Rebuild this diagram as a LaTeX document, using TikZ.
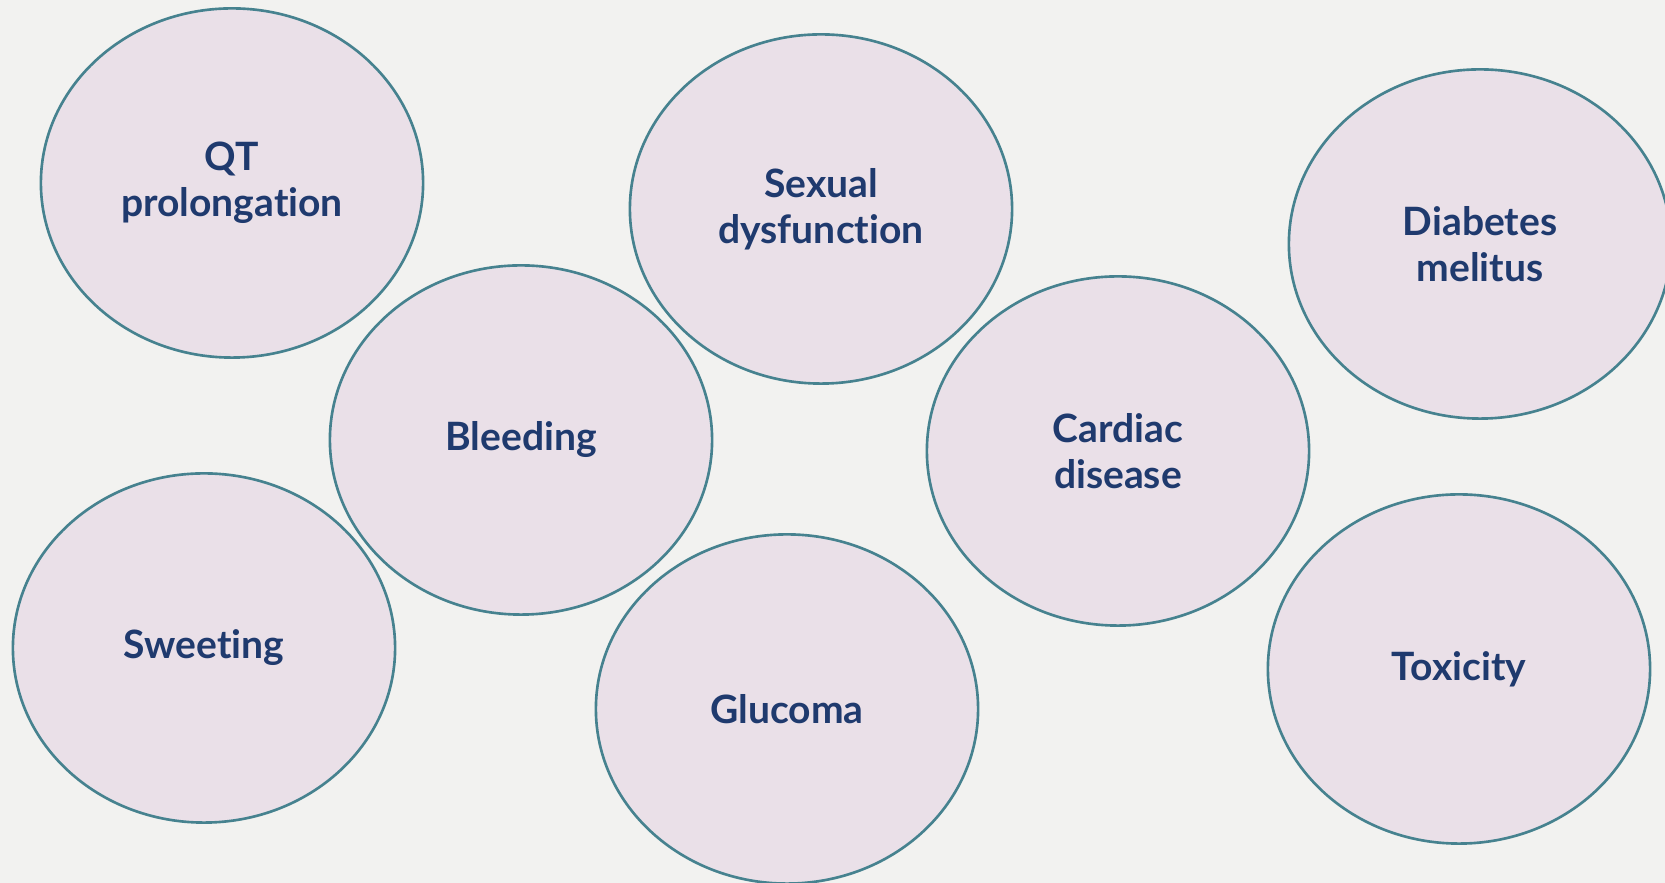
\documentclass[tikz,border=0pt]{standalone}
\usepackage{fontspec}
\setmainfont{Lato}[Ligatures=NoCommon]
\usetikzlibrary{shapes.geometric}
\definecolor{bgcol}{HTML}{F2F2F0}
\definecolor{blobfill}{HTML}{EAE0E8}
\definecolor{blobline}{HTML}{46828F}
\definecolor{txtcol}{HTML}{1F3A6E}
\tikzset{
  blob/.style={ellipse,draw=blobline,fill=blobfill,line width=0.75pt,
    minimum width=3.82cm,minimum height=3.49cm,inner sep=0pt,
    align=center,text=txtcol,font={\fontsize{11.1}{13.2}\selectfont\bfseries}}
}
\begin{document}
\begin{tikzpicture}[x=0.01cm,y=-0.01cm]
\useasboundingbox (0,0) rectangle (1665,883);
\fill[bgcol] (0,0) rectangle (1665,883);
\clip (0,0) rectangle (1665,883);
\node (qt) at (232,183) [blob] {QT\\prolongation};
\node (sexual) at (821,209) [blob] {Sexual\\dysfunction};
\node (diabetes) at (1480,244) [blob] {Diabetes\\melitus};
\node (bleeding) at (521,440) [blob] {Bleeding};
\node (cardiac) at (1118,451) [blob] {Cardiac\\disease};
\node (sweeting) at (204,648) [blob] {Sweeting};
\node (glucoma) at (787,709) [blob] {Glucoma};
\node (toxicity) at (1459,669) [blob] {Toxicity};
\end{tikzpicture}
\end{document}
